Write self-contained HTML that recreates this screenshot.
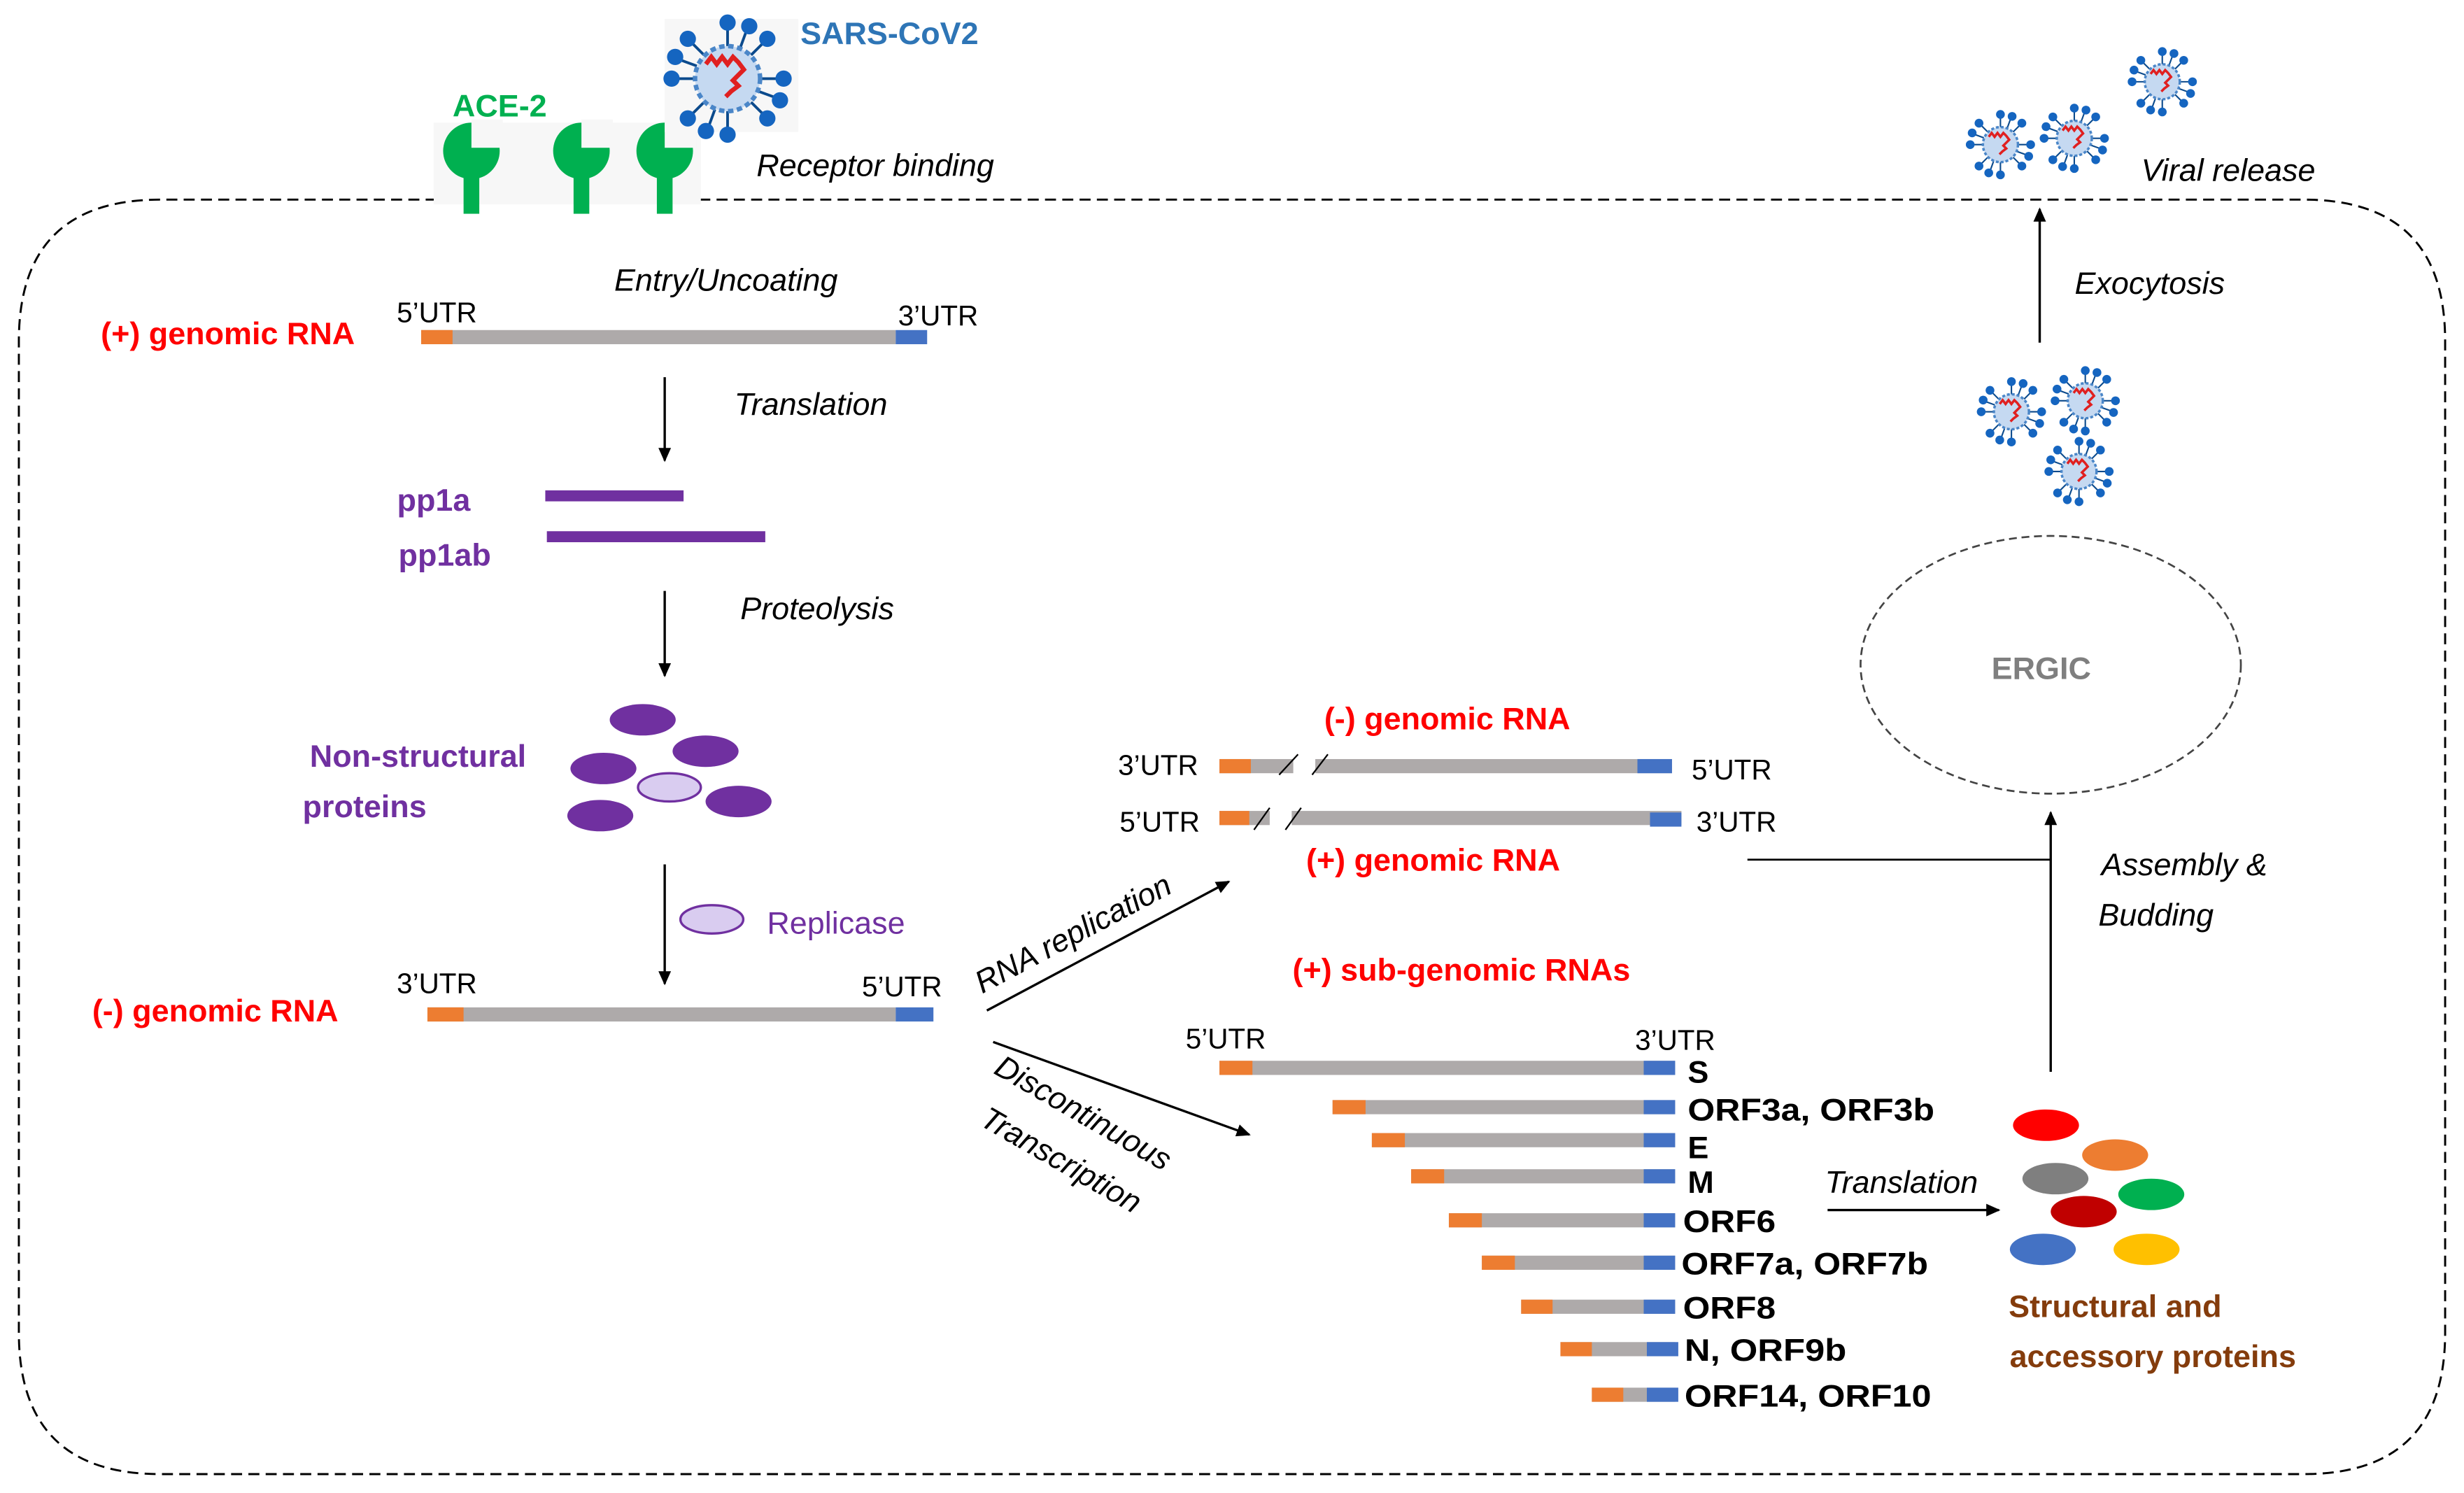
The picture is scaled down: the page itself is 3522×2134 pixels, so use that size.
<!DOCTYPE html>
<html><head><meta charset="utf-8"><style>
html,body{margin:0;padding:0;background:#fff;}
svg{display:block;}
text{font-family:"Liberation Sans",sans-serif;}
.it{font-style:italic;font-size:20px;fill:#000;}
.utr{font-size:18px;fill:#000;}
.red{font-weight:bold;font-size:20px;fill:#ff0000;}
.pur{font-weight:bold;font-size:20px;fill:#7030a0;}
.lab{font-weight:bold;font-size:20px;fill:#000;}
</style></head><body>
<svg width="3522" height="2134" viewBox="0 0 1568 950" xmlns="http://www.w3.org/2000/svg">
<defs>
<marker id="ah" markerWidth="10" markerHeight="10" refX="8" refY="5" orient="auto" markerUnits="userSpaceOnUse">
<path d="M0,1 L9,5 L0,9 Z" fill="#000"/></marker>
<g id="virus">
<g stroke="#0b4a8c" stroke-width="1.5">
<line x1="0" y1="-18" x2="0" y2="-30"/><line x1="0" y1="18" x2="0" y2="30"/>
<line x1="-18" y1="0" x2="-30" y2="0"/><line x1="18" y1="0" x2="30" y2="0"/>
<line x1="13" y1="13" x2="21" y2="21"/><line x1="-13" y1="13" x2="-21" y2="21"/>
<line x1="13" y1="-13" x2="21" y2="-21"/><line x1="-13" y1="-13" x2="-21" y2="-21"/>
<line x1="7" y1="-17" x2="11" y2="-28"/><line x1="-7" y1="17" x2="-11" y2="28"/>
<line x1="17" y1="7" x2="28" y2="11"/><line x1="-17" y1="-7" x2="-28" y2="-11"/>
</g>
<g fill="#1565c0">
<circle cx="0" cy="-31" r="4.5"/><circle cx="0" cy="31" r="4.5"/><circle cx="-31" cy="0" r="4.5"/><circle cx="31" cy="0" r="4.5"/>
<circle cx="22" cy="22" r="4.5"/><circle cx="-22" cy="22" r="4.5"/><circle cx="22" cy="-22" r="4.5"/><circle cx="-22" cy="-22" r="4.5"/>
<circle cx="12" cy="-29" r="4.5"/><circle cx="-12" cy="29" r="4.5"/><circle cx="29" cy="12" r="4.5"/><circle cx="-29" cy="-12" r="4.5"/>
</g>
<circle r="18" fill="#c5d9f1" stroke="#4a86c8" stroke-width="2.5" stroke-dasharray="3 2"/>
<path d="M-12,-8 l3,-4 l3,4 l3,-4 l3,4 l3,-4 l3,3 l3,4 l-3,3 l-3,3 l3,3 l-4,3 l-3,3" fill="none" stroke="#e02020" stroke-width="2.5"/>
</g>
<g id="ace"><circle cx="0" cy="0" r="18" fill="#00b050"/><rect x="0" y="-20" width="20" height="18" fill="#f7f7f7"/><rect x="-5" y="12" width="10" height="28" fill="#00b050"/></g>
</defs>

<path d="M445,127 L1466,127 Q1556,127 1556,217 L1556,848 Q1556,938 1466,938 L102,938 Q12,938 12,848 L12,217 Q12,127 102,127 L278,127" fill="none" stroke="#000" stroke-width="1.3" stroke-dasharray="7 4"/>

<rect x="276" y="78" width="170" height="52" fill="#f7f7f7"/>
<use href="#ace" x="300" y="96"/><use href="#ace" x="370" y="96"/><use href="#ace" x="423" y="96"/>
<text x="318" y="74" text-anchor="middle" font-weight="bold" font-size="20" fill="#00b050">ACE-2</text>
<rect x="423" y="12" width="85" height="72" fill="#f7f7f7"/>
<use href="#virus" transform="translate(463,50) scale(1.15)"/>
<text x="566" y="28" text-anchor="middle" font-weight="bold" font-size="20" fill="#2e75b6">SARS-CoV2</text>
<text x="557" y="112" text-anchor="middle" class="it">Receptor binding</text>

<use href="#virus" transform="translate(1273,92) scale(0.62)"/>
<use href="#virus" transform="translate(1320,88) scale(0.62)"/>
<use href="#virus" transform="translate(1376,52) scale(0.62)"/>
<text x="1418" y="115" text-anchor="middle" class="it">Viral release</text>

<text x="462" y="185" text-anchor="middle" class="it">Entry/Uncoating</text>
<text x="145" y="219" text-anchor="middle" class="red">(+) genomic RNA</text>
<text x="278" y="205" text-anchor="middle" class="utr">5’UTR</text>
<text x="597" y="207" text-anchor="middle" class="utr">3’UTR</text>
<rect x="268" y="210" width="302" height="9" fill="#aeaaaa"/><rect x="268" y="210" width="20" height="9" fill="#ed7d31"/><rect x="570" y="210" width="20" height="9" fill="#4472c4"/>
<line x1="423" y1="240" x2="423" y2="293" stroke="#000" stroke-width="1.5" marker-end="url(#ah)"/>
<text x="516" y="264" text-anchor="middle" class="it">Translation</text>

<text x="276" y="325" text-anchor="middle" class="pur">pp1a</text>
<rect x="347" y="312" width="88" height="7" fill="#7030a0"/>
<text x="283" y="360" text-anchor="middle" class="pur">pp1ab</text>
<rect x="348" y="338" width="139" height="7" fill="#7030a0"/>
<line x1="423" y1="376" x2="423" y2="430" stroke="#000" stroke-width="1.5" marker-end="url(#ah)"/>
<text x="520" y="394" text-anchor="middle" class="it">Proteolysis</text>

<text x="266" y="488" text-anchor="middle" class="pur">Non-structural</text>
<text x="232" y="520" text-anchor="middle" class="pur">proteins</text>
<g fill="#7030a0">
<ellipse cx="409" cy="458" rx="21" ry="10"/><ellipse cx="449" cy="478" rx="21" ry="10"/>
<ellipse cx="384" cy="489" rx="21" ry="10"/><ellipse cx="470" cy="510" rx="21" ry="10"/>
<ellipse cx="382" cy="519" rx="21" ry="10"/></g>
<ellipse cx="426" cy="501" rx="20" ry="9" fill="#d9ccf0" stroke="#7030a0" stroke-width="1.5"/>
<line x1="423" y1="550" x2="423" y2="626" stroke="#000" stroke-width="1.5" marker-end="url(#ah)"/>
<ellipse cx="453" cy="585" rx="20" ry="9" fill="#d9ccf0" stroke="#7030a0" stroke-width="1.5"/>
<text x="532" y="594" text-anchor="middle" font-size="20" fill="#7030a0">Replicase</text>

<text x="137" y="650" text-anchor="middle" class="red">(-) genomic RNA</text>
<text x="278" y="632" text-anchor="middle" class="utr">3’UTR</text>
<text x="574" y="634" text-anchor="middle" class="utr">5’UTR</text>
<rect x="272" y="641" width="298" height="9" fill="#aeaaaa"/><rect x="272" y="641" width="23" height="9" fill="#ed7d31"/><rect x="570" y="641" width="24" height="9" fill="#4472c4"/>

<line x1="628" y1="643" x2="782" y2="561" stroke="#000" stroke-width="1.5" marker-end="url(#ah)"/>
<text transform="translate(686,600) rotate(-28)" text-anchor="middle" class="it">RNA replication</text>
<line x1="632" y1="663" x2="795" y2="722" stroke="#000" stroke-width="1.5" marker-end="url(#ah)"/>
<text transform="translate(686,714) rotate(30)" text-anchor="middle" class="it">Discontinuous</text>
<text transform="translate(672,744) rotate(30)" text-anchor="middle" class="it">Transcription</text>

<text x="921" y="464" text-anchor="middle" class="red">(-) genomic RNA</text>
<text x="737" y="493" text-anchor="middle" class="utr">3’UTR</text>
<text x="1102" y="496" text-anchor="middle" class="utr">5’UTR</text>
<rect x="776" y="483" width="288" height="9" fill="#aeaaaa"/><rect x="776" y="483" width="20" height="9" fill="#ed7d31"/><rect x="1042" y="483" width="22" height="9" fill="#4472c4"/>
<rect x="823" y="481" width="14" height="13" fill="#fff"/>
<line x1="814" y1="493" x2="826" y2="480" stroke="#000"/><line x1="835" y1="493" x2="845" y2="480" stroke="#000"/>
<text x="738" y="529" text-anchor="middle" class="utr">5’UTR</text>
<text x="1105" y="529" text-anchor="middle" class="utr">3’UTR</text>
<rect x="776" y="516" width="294" height="9" fill="#aeaaaa"/><rect x="776" y="516" width="19" height="9" fill="#ed7d31"/><rect x="1050" y="517" width="20" height="9" fill="#4472c4"/>
<rect x="808" y="514" width="14" height="13" fill="#fff"/>
<line x1="798" y1="528" x2="808" y2="514" stroke="#000"/><line x1="818" y1="528" x2="828" y2="514" stroke="#000"/>
<text x="912" y="554" text-anchor="middle" class="red">(+) genomic RNA</text>

<line x1="1112" y1="547" x2="1305" y2="547" stroke="#000" stroke-width="1.2"/>
<line x1="1305" y1="682" x2="1305" y2="517" stroke="#000" stroke-width="1.5" marker-end="url(#ah)"/>
<text x="1390" y="557" text-anchor="middle" class="it">Assembly &amp;</text>
<text x="1372" y="589" text-anchor="middle" class="it">Budding</text>

<ellipse cx="1305" cy="423" rx="121" ry="82" fill="none" stroke="#444" stroke-width="1.2" stroke-dasharray="5 3"/>
<text x="1299" y="432" text-anchor="middle" font-weight="bold" font-size="20" fill="#7f7f7f">ERGIC</text>

<line x1="1298" y1="218" x2="1298" y2="133" stroke="#000" stroke-width="1.5" marker-end="url(#ah)"/>
<text x="1368" y="187" text-anchor="middle" class="it">Exocytosis</text>
<use href="#virus" transform="translate(1280,262) scale(0.62)"/>
<use href="#virus" transform="translate(1327,255) scale(0.62)"/>
<use href="#virus" transform="translate(1323,300) scale(0.62)"/>

<text x="930" y="624" text-anchor="middle" class="red">(+) sub-genomic RNAs</text>
<text x="780" y="667" text-anchor="middle" class="utr">5’UTR</text>
<text x="1066" y="668" text-anchor="middle" class="utr">3’UTR</text>
<g>
<rect x="776" y="675" width="290" height="9" fill="#aeaaaa"/><rect x="776" y="675" width="21" height="9" fill="#ed7d31"/><rect x="1046" y="675" width="20" height="9" fill="#4472c4"/>
<rect x="848" y="700" width="218" height="9" fill="#aeaaaa"/><rect x="848" y="700" width="21" height="9" fill="#ed7d31"/><rect x="1046" y="700" width="20" height="9" fill="#4472c4"/>
<rect x="873" y="721" width="193" height="9" fill="#aeaaaa"/><rect x="873" y="721" width="21" height="9" fill="#ed7d31"/><rect x="1046" y="721" width="20" height="9" fill="#4472c4"/>
<rect x="898" y="744" width="168" height="9" fill="#aeaaaa"/><rect x="898" y="744" width="21" height="9" fill="#ed7d31"/><rect x="1046" y="744" width="20" height="9" fill="#4472c4"/>
<rect x="922" y="772" width="144" height="9" fill="#aeaaaa"/><rect x="922" y="772" width="21" height="9" fill="#ed7d31"/><rect x="1046" y="772" width="20" height="9" fill="#4472c4"/>
<rect x="943" y="799" width="123" height="9" fill="#aeaaaa"/><rect x="943" y="799" width="21" height="9" fill="#ed7d31"/><rect x="1046" y="799" width="20" height="9" fill="#4472c4"/>
<rect x="968" y="827" width="98" height="9" fill="#aeaaaa"/><rect x="968" y="827" width="20" height="9" fill="#ed7d31"/><rect x="1046" y="827" width="20" height="9" fill="#4472c4"/>
<rect x="993" y="854" width="73" height="9" fill="#aeaaaa"/><rect x="993" y="854" width="20" height="9" fill="#ed7d31"/><rect x="1048" y="854" width="20" height="9" fill="#4472c4"/>
<rect x="1013" y="883" width="53" height="9" fill="#aeaaaa"/><rect x="1013" y="883" width="20" height="9" fill="#ed7d31"/><rect x="1048" y="883" width="20" height="9" fill="#4472c4"/>
</g>
<text x="1074" y="689" class="lab">S</text>
<text x="1074" y="713" class="lab" textLength="157" lengthAdjust="spacingAndGlyphs">ORF3a, ORF3b</text>
<text x="1074" y="737" class="lab">E</text>
<text x="1074" y="759" class="lab">M</text>
<text x="1071" y="784" class="lab" textLength="59" lengthAdjust="spacingAndGlyphs">ORF6</text>
<text x="1070" y="811" class="lab" textLength="157" lengthAdjust="spacingAndGlyphs">ORF7a, ORF7b</text>
<text x="1071" y="839" class="lab" textLength="59" lengthAdjust="spacingAndGlyphs">ORF8</text>
<text x="1072" y="866" class="lab" textLength="103" lengthAdjust="spacingAndGlyphs">N, ORF9b</text>
<text x="1072" y="895" class="lab" textLength="157" lengthAdjust="spacingAndGlyphs">ORF14, ORF10</text>

<line x1="1163" y1="770" x2="1272" y2="770" stroke="#000" stroke-width="1.5" marker-end="url(#ah)"/>
<text x="1210" y="759" text-anchor="middle" class="it">Translation</text>

<ellipse cx="1302" cy="716" rx="21" ry="10" fill="#ff0000"/>
<ellipse cx="1346" cy="735" rx="21" ry="10" fill="#ed7d31"/>
<ellipse cx="1308" cy="750" rx="21" ry="10" fill="#7f7f7f"/>
<ellipse cx="1369" cy="760" rx="21" ry="10" fill="#00b050"/>
<ellipse cx="1326" cy="771" rx="21" ry="10" fill="#c00000"/>
<ellipse cx="1300" cy="795" rx="21" ry="10" fill="#4472c4"/>
<ellipse cx="1366" cy="795" rx="21" ry="10" fill="#ffc000"/>
<text x="1346" y="838" text-anchor="middle" font-weight="bold" font-size="20" fill="#843c0c">Structural and</text>
<text x="1370" y="870" text-anchor="middle" font-weight="bold" font-size="20" fill="#843c0c">accessory proteins</text>
</svg>
</body></html>
